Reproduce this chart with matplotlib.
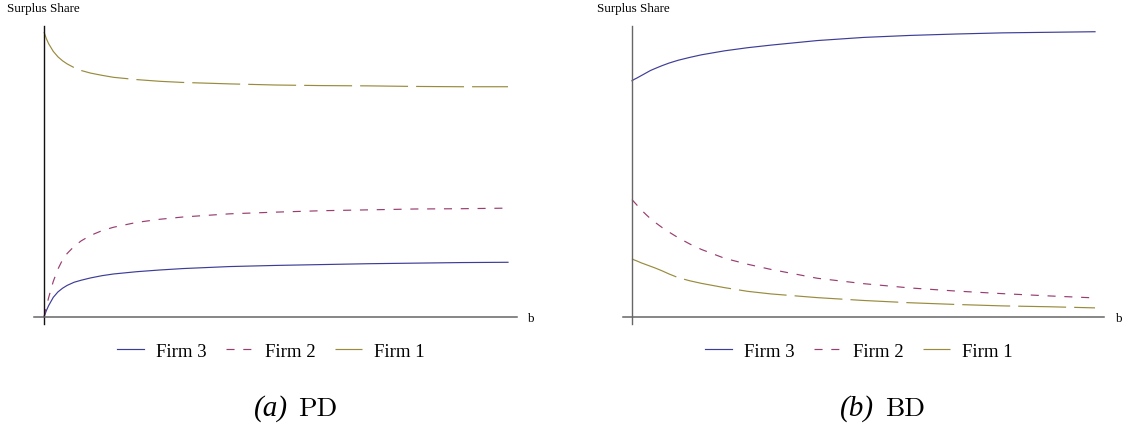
import matplotlib
matplotlib.use("Agg")
import matplotlib.pyplot as plt
from matplotlib.lines import Line2D

# bargaining parameter grid
b = [0, 0.05, 0.1, 0.2, 0.3, 0.4, 0.5, 0.65, 0.8, 1, 1.25, 1.5, 2, 2.5,
     3, 4, 5, 6, 7, 8, 9, 10]

# (a) PD: surplus shares
pd_firm3 = [0, 0.022, 0.040, 0.069, 0.088, 0.101, 0.111, 0.122, 0.129, 0.137,
            0.145, 0.151, 0.159, 0.165, 0.170, 0.177, 0.181, 0.184, 0.187,
            0.189, 0.191, 0.192]
pd_firm2 = [0, 0.035, 0.068, 0.125, 0.168, 0.201, 0.223, 0.248, 0.267, 0.286,
            0.303, 0.315, 0.332, 0.343, 0.351, 0.362, 0.368, 0.373, 0.376,
            0.379, 0.380, 0.382]
pd_firm1 = [1.000, 0.977, 0.959, 0.932, 0.913, 0.899, 0.888, 0.875, 0.865,
            0.856, 0.848, 0.841, 0.833, 0.827, 0.823, 0.818, 0.814, 0.812,
            0.811, 0.809, 0.808, 0.808]

# (b) BD: surplus shares
bd_firm3 = [0.829, 0.834, 0.838, 0.847, 0.856, 0.865, 0.872, 0.882, 0.891,
            0.901, 0.911, 0.920, 0.934, 0.945, 0.954, 0.970, 0.981, 0.988,
            0.993, 0.997, 0.999, 1.001]
bd_firm2 = [0.412, 0.403, 0.394, 0.376, 0.360, 0.345, 0.332, 0.314, 0.298,
            0.278, 0.256, 0.237, 0.206, 0.185, 0.167, 0.136, 0.117, 0.102,
            0.091, 0.082, 0.074, 0.067]
bd_firm1 = [0.204, 0.200, 0.197, 0.190, 0.184, 0.178, 0.172, 0.162, 0.151,
            0.138, 0.127, 0.118, 0.103, 0.090, 0.081, 0.068, 0.058, 0.050,
            0.044, 0.039, 0.036, 0.032]

labels = ["Firm 3", "Firm 2", "Firm 1"]
colors = ["#3d3d99", "#993d71", "#998b3d"]
dashes = [None, (0, (5.8, 6.3)), (0, (34.5, 5.8))]

plt.rcParams["lines.scale_dashes"] = False

W, H = 1126, 427
fig = plt.figure(figsize=(W / 100, H / 100), dpi=100)
serif = "Liberation Serif"


def make_axes(x0, x1, y0, y1):
    return fig.add_axes([x0 / W, 1 - y1 / H, (x1 - x0) / W, (y1 - y0) / H])


panels = [
    dict(box=(34, 517, 27, 325), xlim=(-0.2155, 10.194),
         series=[pd_firm3, pd_firm2, pd_firm1], ycol="#111111",
         ylab_x=7, b_x=528, leg_x=270.5, cap_split=(288, 298),
         tag="(a)", name="PD"),
    dict(box=(623, 1104, 27, 325), xlim=(-0.194, 10.194),
         series=[bd_firm3, bd_firm2, bd_firm1], ycol="#666666",
         ylab_x=597, b_x=1116, leg_x=859, cap_split=(874, 885),
         tag="(b)", name="BD"),
]

for p in panels:
    ax = make_axes(*p["box"])
    ax.set_xlim(*p["xlim"])
    ax.set_ylim(-0.02456, 1.0211)
    handles = []
    for ys, c, d, lab in zip(p["series"], colors, dashes, labels):
        kw = dict(color=c, lw=0.85)
        if d is not None:
            kw["linestyle"] = d
        ax.plot(b, ys, **kw)
        handles.append(Line2D([], [], **kw))
    for s in ("top", "right"):
        ax.spines[s].set_visible(False)
    ax.spines["left"].set_position(("data", 0))
    ax.spines["bottom"].set_position(("data", 0))
    ax.spines["left"].set_color(p["ycol"])
    ax.spines["bottom"].set_color("#666666")
    ax.spines["left"].set_linewidth(1.0)
    ax.spines["bottom"].set_linewidth(1.1)
    ax.set_xticks([])
    ax.set_yticks([])
    ax.patch.set_alpha(0)

    fig.text(p["ylab_x"] / W, 1 - 9 / H, "Surplus Share", family=serif,
             fontsize=9.4, ha="left", va="center")
    fig.text(p["b_x"] / W, 1 - 319 / H, "b", family=serif,
             fontsize=9.4, ha="left", va="center")

    ax.legend(handles, labels, loc="center",
              bbox_to_anchor=(p["leg_x"] / W, 1 - 352 / H),
              bbox_transform=fig.transFigure, ncol=3, frameon=False,
              prop=dict(family=serif, size=13.5), handlelength=1.45,
              handletextpad=0.64, columnspacing=1.02, borderpad=0)

    left_x, right_x = p["cap_split"]
    fig.text(left_x / W, 1 - 416 / H, p["tag"], family=serif, style="italic",
             fontsize=21, ha="right", va="baseline")
    fig.text(right_x / W, 1 - 416 / H, p["name"], family="cmr10",
             fontsize=19.5, ha="left", va="baseline")

fig.savefig("out.png", dpi=100)
